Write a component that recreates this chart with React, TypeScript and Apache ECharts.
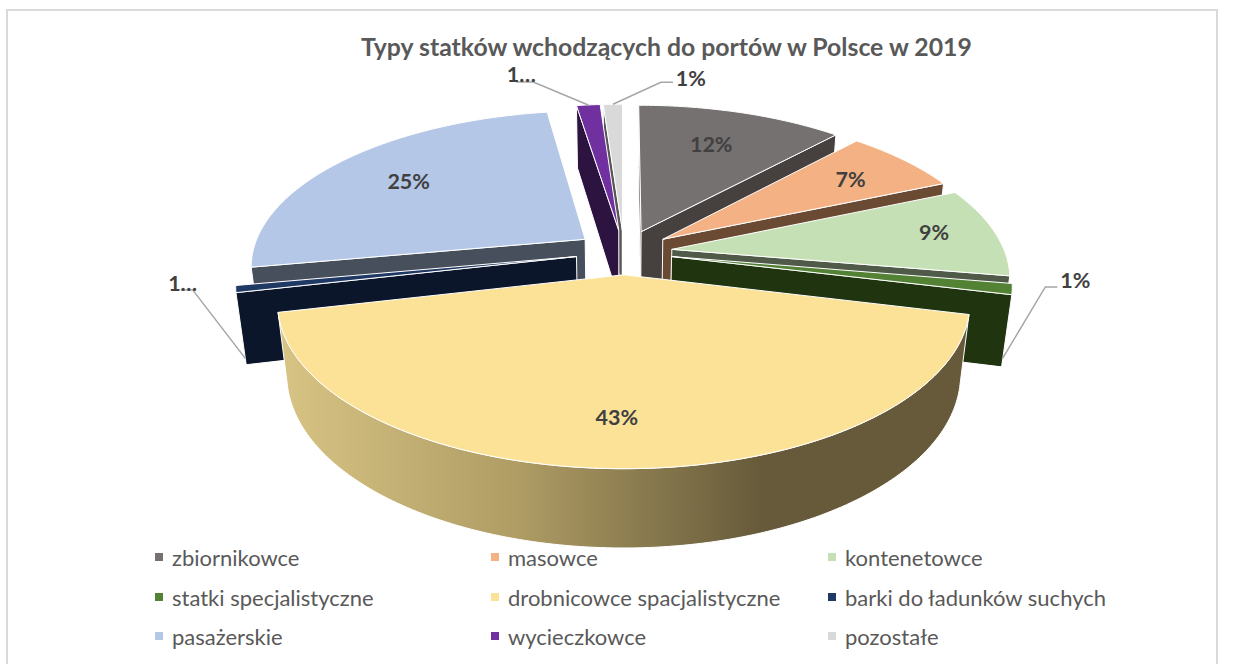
import React, { useEffect, useRef } from "react";
import * as echarts from "echarts";

const categories = ["zbiornikowce", "masowce", "kontenetowce", "statki specjalistyczne", "drobnicowce spacjalistyczne", "barki do ładunków suchych", "pasażerskie", "wycieczkowce", "pozostałe"];
const shares = [11.8, 6.7, 9.2, 1.1, 42.6, 0.7, 25.45, 1.35, 1.1];
const dataLabels = ["12%", "7%", "9%", "1%", "43%", "1…", "25%", "1…", "1%"];
const topColors = ["#767171", "#F4B183", "#C5E0B4", "#548235", "#FBE297", "#1F3864", "#B4C7E7", "#7030A0", "#D9D9D9"];
const wallColors = ["#46403F", "#6B4A33", "#505A48", "#203410", "#665A3A", "#0C162A", "#484F5C", "#2C1340", "#575757"];
const labelRadius = [0.7, 0.75, 0.82, 0, 0.77, 0, 0.7, 0, 0];
const labelNudge = [[-3, -1], [3, 0], [-3, -3], [0, 0], [-5, 0], [0, 0], [-3, -2], [0, 0], [0, 0]];
// leader: elbow and end offsets from the anchor on the slice, label offset from the end
const leaders: Record<number, { z: number; elbow: number[]; end: number[]; text: number[] }> = {
  3: { z: 0.97, elbow: [43, -72], end: [55, -72], text: [73, -79] },
  5: { z: 0.97, elbow: [-53, -69], end: [-65, -69], text: [-63, -76] },
  7: { z: 0, elbow: [-55, -23], end: [-72, -23], text: [-67, -31] },
  8: { z: 0, elbow: [48, -22], end: [60, -22], text: [78, -26] },
};

const CX = 624, CY = 252, A = 333, B = 153.5, P = 0.165, Q = 0.026, H = 72, E = 0.145;
const FONT = "Lato";

function project(u: number, v: number, z: number) {
  const w = 1 + P * v + Q * z;
  return [CX + (A * u) / w, CY - (B * v) / w + (H * z) / w];
}
function area(p: number[][]) {
  let s = 0;
  for (let i = 0; i < p.length; i++) {
    const a = p[i], b = p[(i + 1) % p.length];
    s += a[0] * b[1] - b[0] * a[1];
  }
  return s;
}

const total = shares.reduce((a, b) => a + b, 0);
const starts: number[] = [];
shares.reduce((acc, s, i) => { starts[i] = acc; return acc + s; }, 0);
const angleOf = (pct: number) => (pct / total) * Math.PI * 2;
const midOf = (i: number) => angleOf(starts[i] + shares[i] / 2);

function renderSlice(i: number) {
  return (_params: any, api: any) => {
    const value = api.value(0);
    const a0 = angleOf(starts[i]);
    const a1 = a0 + angleOf(value);
    const mid = (a0 + a1) / 2;
    const cu = E * Math.sin(mid), cv = E * Math.cos(mid);
    const rim = (a: number, z: number, r = 1) => project(cu + r * Math.sin(a), cv + r * Math.cos(a), z);
    const apexT = project(cu, cv, 0), apexB = project(cu, cv, 1);
    const edge = { stroke: "#ffffff", lineWidth: 1, lineJoin: "round" };
    const children: any[] = [];
    const poly = (points: number[][], fill: any) => children.push({ type: "polygon", silent: true, shape: { points }, style: { fill, ...edge } });

    const w0 = [apexT, rim(a0, 0), rim(a0, 1), apexB];
    const w1 = [apexT, rim(a1, 0), rim(a1, 1), apexB];
    if (area(w0) < 0) poly(w0, wallColors[i]);
    if (area(w1) > 0) poly(w1, wallColors[i]);

    const steps = Math.max(4, Math.ceil(((a1 - a0) * 180) / Math.PI));
    const arcTop: number[][] = [], front: number[][] = [], frontB: number[][] = [];
    for (let k = 0; k <= steps; k++) {
      const a = a0 + ((a1 - a0) * k) / steps;
      arcTop.push(rim(a, 0));
      if (k < steps) {
        const b = a0 + ((a1 - a0) * (k + 1)) / steps;
        if (area([rim(a, 0), rim(b, 0), rim(b, 1), rim(a, 1)]) < 0) {
          if (!front.length) { front.push(rim(a, 0)); frontB.push(rim(a, 1)); }
          front.push(rim(b, 0)); frontB.push(rim(b, 1));
        }
      }
    }
    if (front.length) {
      const fill = i === 4
        ? new echarts.graphic.LinearGradient(1, 0, 0, 0, [
            { offset: 0, color: "#665A3A" },
            { offset: 0.3, color: "#665A3A" },
            { offset: 0.65, color: "#AE9C64" },
            { offset: 1, color: "#D8C484" },
          ])
        : wallColors[i];
      poly([...front, ...frontB.reverse()], fill);
    }
    poly([apexT, ...arcTop], topColors[i]);

    const textStyle = { fill: "#404040", fontFamily: FONT, fontWeight: "bold", fontSize: 21.5, align: "center", verticalAlign: "middle" };
    if (labelRadius[i] > 0) {
      const p = rim(mid, 0, labelRadius[i]);
      children.push({ type: "text", silent: true, style: { text: dataLabels[i], x: p[0] + labelNudge[i][0], y: p[1] + labelNudge[i][1], ...textStyle } });
    }
    const l = leaders[i];
    if (l) {
      const p = rim(mid, l.z);
      children.push({ type: "polyline", silent: true, shape: { points: [p, [p[0] + l.elbow[0], p[1] + l.elbow[1]], [p[0] + l.end[0], p[1] + l.end[1]]] }, style: { stroke: "#A6A6A6", lineWidth: 1.5, fill: "none" } });
      children.push({ type: "text", silent: true, style: { text: dataLabels[i], x: p[0] + l.text[0], y: p[1] + l.text[1], ...textStyle } });
    }
    return { type: "group", children };
  };
}

const legendCols = [155, 491, 828];
const legendRows = [546, 586, 625];

export default function App() {
  const ref = useRef<HTMLDivElement>(null);
  useEffect(() => {
    const chart = echarts.init(ref.current!, null, { renderer: "svg" });
    const order = categories.map((_, i) => i).sort((a, b) => Math.cos(midOf(b)) - Math.cos(midOf(a)));
    chart.setOption({
      animation: false,
      backgroundColor: "#ffffff",
      title: {
        text: "Typy statków wchodzących do portów w Polsce w 2019",
        left: 361, top: 34,
        padding: 0,
        textStyle: { fontFamily: FONT, fontWeight: "bold", fontSize: 24.8, color: "#595959" },
      },
      legend: categories.map((name, i) => ({
        data: [name],
        left: legendCols[i % 3],
        top: legendRows[Math.floor(i / 3)],
        icon: "rect",
        itemWidth: 8,
        itemHeight: 8,
        selectedMode: false,
        padding: 0,
        textStyle: { fontFamily: FONT, fontSize: 22, color: "#595959", padding: [0, 0, 0, 4] },
      })),
      graphic: [{ type: "rect", silent: true, z: -1, shape: { x: 7, y: 10, width: 1210, height: 660 }, style: { fill: "none", stroke: "#D9D9D9", lineWidth: 2 } }],
      series: order.map((i) => ({
        type: "custom",
        name: categories[i],
        coordinateSystem: "none",
        itemStyle: { color: topColors[i] },
        data: [[shares[i]]],
        renderItem: renderSlice(i),
      })),
    });
    return () => chart.dispose();
  }, []);
  return <div ref={ref} style={{ position: "fixed", left: 0, top: 0, width: 1234, height: 664 }} />;
}
